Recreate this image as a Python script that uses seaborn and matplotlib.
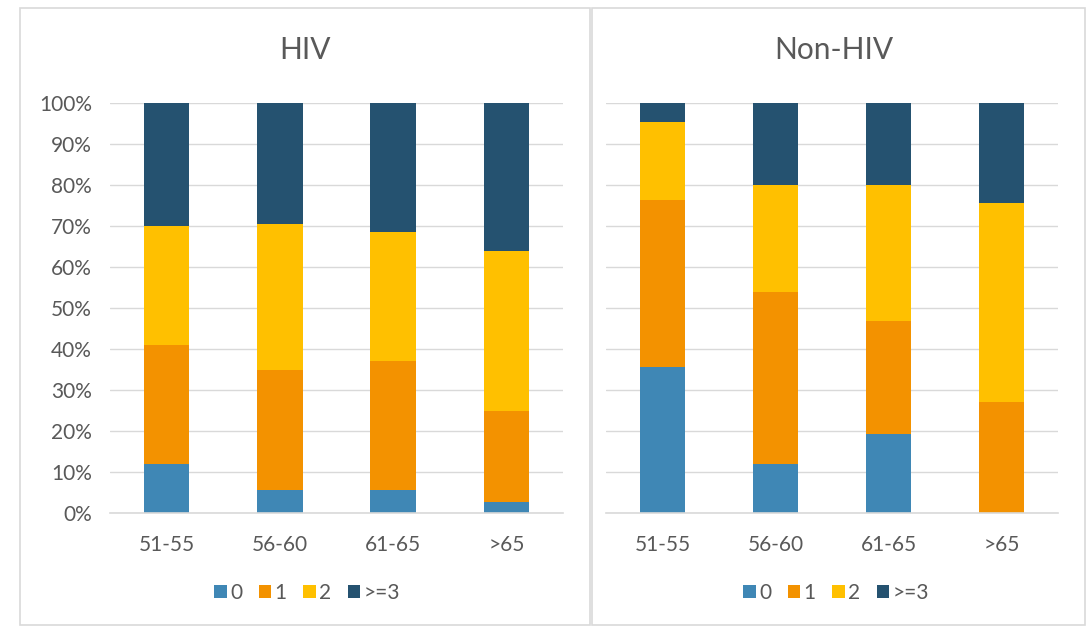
import numpy as np
import pandas as pd
import matplotlib
matplotlib.use("Agg")
import matplotlib.pyplot as plt
from matplotlib.patches import Patch, Rectangle
import seaborn as sns

# ---- data (percent of patients) ----
age_groups = ["51-55", "56-60", "61-65", ">65"]
levels = ["0", "1", "2", ">=3"]
hiv_0 = [12.0, 5.5, 5.7, 2.8]
hiv_1 = [29.0, 29.5, 31.3, 22.2]
hiv_2 = [29.0, 35.5, 31.5, 39.0]
hiv_3 = [30.0, 29.5, 31.5, 36.0]
non_0 = [35.6, 12.0, 19.3, 0.0]
non_1 = [40.7, 42.0, 27.5, 27.0]
non_2 = [19.1, 26.0, 33.2, 48.6]
non_3 = [4.6, 20.0, 20.0, 24.4]
colors = ["#3F87B5", "#F39200", "#FFC000", "#255270"]
panel_titles = ["HIV", "Non-HIV"]

sns.set_style("white")
plt.rcParams["font.family"] = ["Lato", "DejaVu Sans"]
TXT = "#595959"
GRID = "#D9D9D9"

W, H = 1089, 626
fig = plt.figure(figsize=(W / 100, H / 100), dpi=100)

def fx(px):
    return px / W

def fy(py):
    return 1 - py / H

# panel frames
for (x0, x1) in [(20, 590), (592, 1085)]:
    fig.add_artist(Rectangle((fx(x0), fy(625)), fx(x1 - x0), (625 - 8) / H,
                             transform=fig.transFigure, fill=False,
                             edgecolor=GRID, lw=1.2))

panels = [
    (panel_titles[0], [hiv_0, hiv_1, hiv_2, hiv_3], (110, 563), 307),
    (panel_titles[1], [non_0, non_1, non_2, non_3], (606, 1058), 836),
]

for i, (title, series, (ax0, ax1), cx) in enumerate(panels):
    ax = fig.add_axes([fx(ax0), fy(513), fx(ax1 - ax0), (513 - 103) / H])
    df = pd.DataFrame({"age": age_groups})
    cum = np.zeros(len(age_groups))
    cums = []
    for s in series:
        cum = cum + np.array(s)
        cums.append(cum.copy())
    # draw cumulative totals from the top layer down so lower layers overlay
    for k in range(len(levels) - 1, -1, -1):
        df["val"] = cums[k]
        sns.barplot(data=df, x="age", y="val", order=age_groups, color=colors[k],
                    saturation=1, width=0.4, linewidth=0, ax=ax, errorbar=None)
    ax.set_ylim(0, 100)
    ax.set_xlim(-0.5, 3.5)
    ax.set_yticks(np.arange(0, 101, 10))
    ax.yaxis.grid(True, color=GRID, lw=1)
    ax.set_axisbelow(True)
    for sp in ["top", "right", "left"]:
        ax.spines[sp].set_visible(False)
    ax.spines["bottom"].set_color(GRID)
    ax.spines["bottom"].set_linewidth(1.2)
    ax.set_xlabel("")
    ax.set_ylabel("")
    ax.tick_params(axis="both", length=0, colors=TXT, labelsize=15)
    ax.tick_params(axis="x", pad=16)
    ax.tick_params(axis="y", pad=13)
    if i == 0:
        ax.set_yticklabels([f"{v}%" for v in range(0, 101, 10)])
    else:
        ax.set_yticklabels([])
    fig.text(fx(cx - 2), fy(50), title, ha="center", va="center", fontsize=21.5, color=TXT)
    handles = [Patch(facecolor=c, edgecolor="none", label=l) for c, l in zip(colors, levels)]
    fig.legend(handles=handles, loc="center", bbox_to_anchor=(fx(cx), fy(593)),
               ncol=4, frameon=False, fontsize=15, labelcolor=TXT,
               handlelength=0.6, handleheight=0.6, handletextpad=0.15,
               columnspacing=0.8)

fig.savefig("out.png", dpi=100, facecolor="white")
